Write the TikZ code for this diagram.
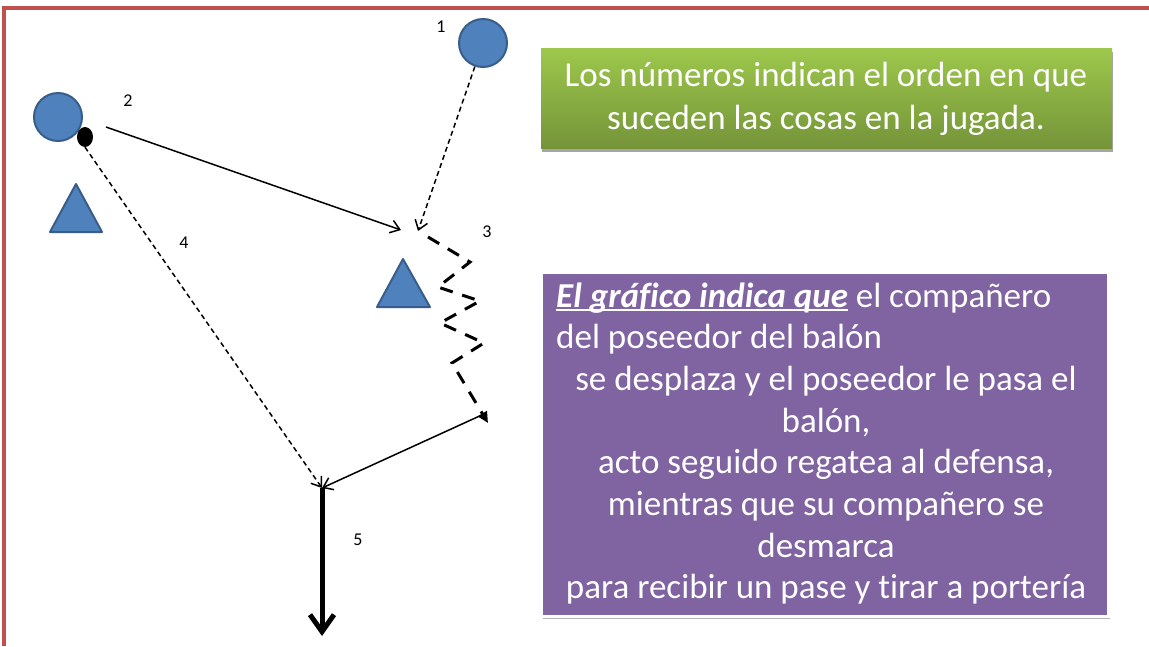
\documentclass[tikz,border=0pt]{standalone}
\usepackage{fontspec}
\setmainfont{Carlito}[Ligatures=NoCommon]
\usetikzlibrary{arrows.meta,shadows,shapes.geometric}
\definecolor{pblue}{RGB}{79,129,189}
\definecolor{pblueb}{RGB}{56,93,138}
\definecolor{pred}{RGB}{192,80,77}
\definecolor{ppurple}{RGB}{128,100,162}
\definecolor{gtop}{RGB}{157,200,76}
\definecolor{gbot}{RGB}{117,148,57}
\newcommand\myul[1]{\setbox0\hbox{#1}\rlap{\raisebox{-4pt}{\rule{\wd0}{1.6pt}}}\box0\relax}
\tikzset{
  player/.style={circle, fill=pblue, draw=pblueb, line width=2pt, minimum size=48pt, inner sep=0pt},
  ballst/.style={ellipse, fill=black, minimum width=16pt, minimum height=20pt, inner sep=0pt},
  defender/.style={fill=pblue, draw=pblueb, line width=2pt, line join=round},
  num/.style={font=\fontsize{18}{20}\selectfont, inner sep=0pt},
  gtext/.style={font=\fontsize{35}{42}\selectfont, text=white, inner sep=0pt},
  ptext/.style={font=\fontsize{35}{42}\selectfont, text=white, inner sep=0pt},
  greenbox/.style={top color=gtop, bottom color=gbot, draw=none, inner sep=0pt,
     drop shadow={shadow xshift=1pt, shadow yshift=-4pt, opacity=0.35, fill=black}},
  purplebox/.style={fill=ppurple, draw=white, line width=3pt, inner sep=0pt,
     drop shadow={shadow xshift=2pt, shadow yshift=-3pt, opacity=0.3, fill=black}},
  thinarrow/.style={line width=1.5pt, -{Straight Barb[length=9pt,width=13pt]}},
  dashline/.style={dash pattern=on 5pt off 3.5pt},
  zig/.style={line width=3pt, dash pattern=on 13pt off 10pt, -{Triangle[length=11pt,width=10pt]}},
  bigarrow/.style={line width=5pt, -{Straight Barb[length=17pt,width=24pt]}}
}
\begin{document}
\begin{tikzpicture}[x=1pt,y=-1pt]
\useasboundingbox (0,0) rectangle (1149,646);
\fill[white] (0,0) rectangle (1149,646);
% frame
\draw[pred, line width=4pt] (4,646) -- (4,8) -- (1149,8);
% text boxes
\node[greenbox, minimum width=571pt, minimum height=100pt] (gbox) at (826.5,98) {};
\node[gtext, anchor=base] (g1) at (826,86) {Los números indican el orden en que};
\node[gtext, anchor=base] (g2) at (826,129) {suceden las cosas en la jugada.};
\node[purplebox, minimum width=567pt, minimum height=344pt] (pbox) at (824.5,444) {};
\node[ptext, anchor=base west] (pt1) at (556,307) {\myul{\textbf{\textit{El gráfico indica que}}} el compañero};
\node[ptext, anchor=base west] (pt2) at (556,348.7) {del poseedor del balón};
\node[ptext, anchor=base] (pt3) at (826,390.4) {se desplaza y el poseedor le pasa el};
\node[ptext, anchor=base] (pt4) at (826,432.1) {balón,};
\node[ptext, anchor=base] (pt5) at (826,473.8) {acto seguido regatea al defensa,};
\node[ptext, anchor=base] (pt6) at (826,515.5) {mientras que su compañero se};
\node[ptext, anchor=base] (pt7) at (826,557.2) {desmarca};
\node[ptext, anchor=base] (pt8) at (826,598.9) {para recibir un pase y tirar a portería};
% players
\node[player] (pl1) at (483,43) {};
\node[player] (pl2) at (58,117) {};
\node[ballst] (ball) at (85,137) {};
\path[defender] (76,184) -- (102,232) -- (50,232) -- cycle;
\path[defender] (403,259) -- (430,307) -- (377,307) -- cycle;
% coordinates
\coordinate (s2) at (106,127);
\coordinate (t2) at (401,230);
\coordinate (t1) at (418,231);
\coordinate (j) at (322,488);
\coordinate (e) at (322,636);
\coordinate (r0) at (484,414);
\coordinate (z0) at (428,237);
\coordinate (z1) at (470,262);
\coordinate (z2) at (438,287);
\coordinate (z3) at (480,301);
\coordinate (z4) at (440,323);
\coordinate (z5) at (484,343);
\coordinate (z6) at (452,363);
\coordinate (z7) at (488,423);
% connectors
\draw[thinarrow] (s2) -- (t2);
\draw[thinarrow, dashline] (pl1) -- (t1);
\draw[thinarrow, dashline] (ball.south) -- (j);
\draw[thinarrow] (r0) -- (j);
\draw[zig] (z0) -- (z1) -- (z2) -- (z3) -- (z4) -- (z5) -- (z6) -- (z7);
\draw[bigarrow] (j) -- (e);
% numbers
\node[num] (n1) at (441,27) {1};
\node[num] (n2) at (128,101) {2};
\node[num] (n3) at (487,232) {3};
\node[num] (n4) at (184,243) {4};
\node[num] (n5) at (358,540) {5};
\end{tikzpicture}
\end{document}
